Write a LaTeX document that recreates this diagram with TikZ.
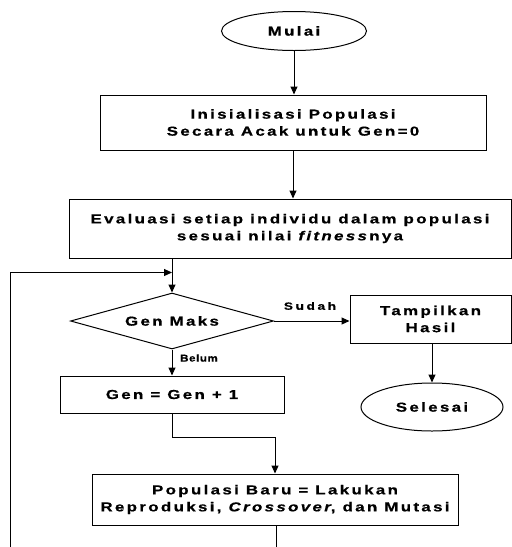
\documentclass[tikz,border=0pt]{standalone}
\usepackage{fontspec}
\newfontfamily\fcfont{Liberation Sans}[LetterSpace=18, FakeStretch=1.3, BoldFeatures={FakeBold=0.6}, BoldItalicFeatures={FakeBold=0.6}]
\newfontfamily\lbfont{Liberation Sans}[LetterSpace=25, FakeStretch=1.3, BoldFeatures={FakeBold=0.6}]
\newfontfamily\lbnfont{Liberation Sans}[LetterSpace=6, FakeStretch=1.15, BoldFeatures={FakeBold=0.6}]
\usetikzlibrary{shapes.geometric,arrows.meta}
\begin{document}
\begin{tikzpicture}[x=1pt,y=-1pt,
  every node/.style={font=\fcfont\bfseries\fontsize{13}{17}\selectfont, align=center, inner sep=0pt},
  boxn/.style={draw, rectangle, line width=1pt},
  ovaln/.style={draw, ellipse, line width=1pt},
  diam/.style={draw, diamond, line width=1pt},
  lbl/.style={font=\lbfont\bfseries\fontsize{10.5}{12}\selectfont},
  lbln/.style={font=\lbnfont\bfseries\fontsize{10}{12}\selectfont},
  conn/.style={line width=1pt},
  arr/.style={conn, -{Triangle[length=8pt,width=7pt]}}]
\useasboundingbox (0,0) rectangle (512,547);
\fill[white] (0,0) rectangle (512,547);
\node[ovaln, minimum width=145pt, minimum height=39pt] (mulai) at (294,31) {Mulai};
\node[boxn, minimum width=386pt, minimum height=55pt] (init) at (293,122.5) {Inisialisasi Populasi\\Secara Acak untuk Gen=0};
\node[boxn, minimum width=442pt, minimum height=59pt] (eval) at (290,228.5) {Evaluasi setiap individu dalam populasi\\sesuai nilai \textit{fitness}nya};
\node[diam, minimum width=203pt, minimum height=56pt, aspect=3.6] (gm) at (172,321) {Gen Maks};
\node[boxn, minimum width=161pt, minimum height=48pt] (tamp) at (430.5,319) {Tampilkan\\Hasil};
\node[ovaln, minimum width=142pt, minimum height=48pt] (sel) at (432,407) {Selesai};
\node[boxn, minimum width=224pt, minimum height=37pt] (gen) at (172,394.5) {Gen = Gen + 1};
\node[boxn, minimum width=366pt, minimum height=51pt] (pop) at (275,499.5) {Populasi Baru = Lakukan\\Reproduksi, \textit{Crossover}, dan Mutasi};
\node[lbl] (sudah) at (310,306) {Sudah};
\node[lbln] (belum) at (199,358) {Belum};
\coordinate (lb) at (10,547);
\coordinate (lt) at (10,272.5);
\coordinate (j) at (172,272.5);
\coordinate (g2) at (172,437.5);
\coordinate (pe) at (276,547);
\draw[arr] (mulai.south) -- (mulai.south |- init.north);
\draw[arr] (init.south) -- (init.south |- eval.north);
\draw[arr] (gm.north |- eval.south) -- (gm.north);
\draw[arr] (lb) -- (lt) -- (j);
\draw[arr] (gm.east) -- (gm.east -| tamp.west);
\draw[arr] (tamp.south -| sel.north) -- (sel.north);
\draw[arr] (gm.south) -- (gen.north);
\draw[arr] (gen.south) -- (g2) -| (pop.north);
\draw[conn] (pop.south -| pe) -- (pe);
\end{tikzpicture}
\end{document}
